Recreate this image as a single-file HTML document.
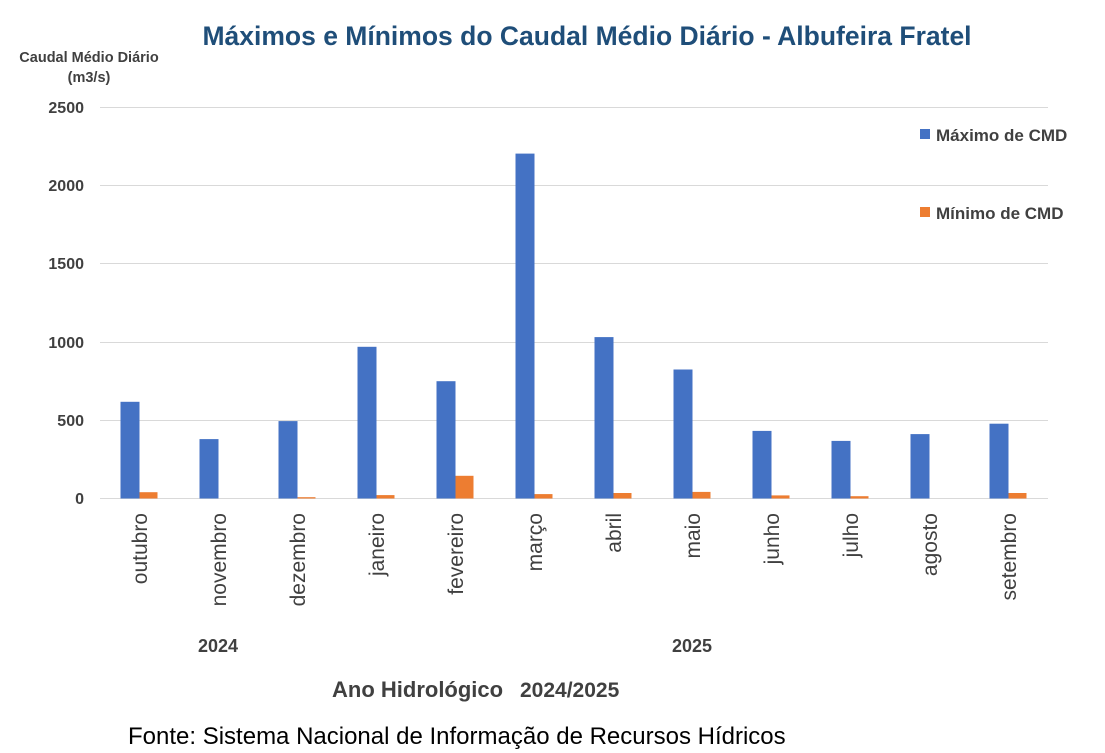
<!DOCTYPE html><html><head><style>body{margin:0;background:#fff}svg{display:block}text{font-family:"Liberation Sans",sans-serif}</style></head><body>
<svg width="1105" height="753" xmlns="http://www.w3.org/2000/svg">
<text x="587" y="45" text-anchor="middle" font-size="26.5" font-weight="bold" fill="#1f4e79">Máximos e Mínimos do Caudal Médio Diário - Albufeira Fratel</text>
<text x="89" y="62" text-anchor="middle" font-size="14.5" font-weight="bold" fill="#404040">Caudal Médio Diário</text>
<text x="89" y="82" text-anchor="middle" font-size="14.5" font-weight="bold" fill="#404040">(m3/s)</text>
<g stroke="#d9d9d9" stroke-width="1">
<line x1="100" x2="1048" y1="107.5" y2="107.5"/><line x1="100" x2="1048" y1="185.5" y2="185.5"/><line x1="100" x2="1048" y1="263.5" y2="263.5"/><line x1="100" x2="1048" y1="342.5" y2="342.5"/><line x1="100" x2="1048" y1="420.5" y2="420.5"/><line x1="100" x2="1048" y1="498.5" y2="498.5"/></g>
<g font-size="16" font-weight="bold" fill="#404040" text-anchor="end">
<text x="84" y="113">2500</text><text x="84" y="191">2000</text><text x="84" y="269">1500</text><text x="84" y="348">1000</text><text x="84" y="426">500</text><text x="84" y="504">0</text></g>
<g fill="#4472c4">
<rect x="120.5" y="401.8" width="19" height="96.7"/>
<rect x="199.5" y="439.1" width="19" height="59.4"/>
<rect x="278.5" y="421.1" width="19" height="77.4"/>
<rect x="357.5" y="346.8" width="19" height="151.7"/>
<rect x="436.5" y="381.2" width="19" height="117.3"/>
<rect x="515.5" y="153.6" width="19" height="344.9"/>
<rect x="594.5" y="337.1" width="19" height="161.4"/>
<rect x="673.5" y="369.5" width="19" height="129"/>
<rect x="752.5" y="430.9" width="19" height="67.6"/>
<rect x="831.5" y="440.9" width="19" height="57.6"/>
<rect x="910.5" y="434.1" width="19" height="64.4"/>
<rect x="989.5" y="423.7" width="19" height="74.8"/>
</g>
<g fill="#ed7d31">
<rect x="139.5" y="492.2" width="18" height="6.3"/>
<rect x="297.5" y="497.2" width="18" height="1.3"/>
<rect x="376.5" y="495.1" width="18" height="3.4"/>
<rect x="455.5" y="475.8" width="18" height="22.7"/>
<rect x="534.5" y="494.1" width="18" height="4.4"/>
<rect x="613.5" y="493" width="18" height="5.5"/>
<rect x="692.5" y="491.9" width="18" height="6.6"/>
<rect x="771.5" y="495.4" width="18" height="3.1"/>
<rect x="850.5" y="496.2" width="18" height="2.3"/>
<rect x="1008.5" y="493" width="18" height="5.5"/>
</g>
<g font-size="21" fill="#404040" text-anchor="end">
<text transform="translate(147,513) rotate(-90)">outubro</text>
<text transform="translate(226,513) rotate(-90)">novembro</text>
<text transform="translate(305,513) rotate(-90)">dezembro</text>
<text transform="translate(384,513) rotate(-90)">janeiro</text>
<text transform="translate(463,513) rotate(-90)">fevereiro</text>
<text transform="translate(542,513) rotate(-90)">março</text>
<text transform="translate(621,513) rotate(-90)">abril</text>
<text transform="translate(700,513) rotate(-90)">maio</text>
<text transform="translate(779,513) rotate(-90)">junho</text>
<text transform="translate(858,513) rotate(-90)">julho</text>
<text transform="translate(937,513) rotate(-90)">agosto</text>
<text transform="translate(1016,513) rotate(-90)">setembro</text>
</g>
<g font-size="17" font-weight="bold" fill="#404040">
<rect x="920" y="129" width="10" height="10" fill="#4472c4"/><text x="936" y="141">Máximo de CMD</text>
<rect x="920" y="207" width="10" height="10" fill="#ed7d31"/><text x="936" y="219">Mínimo de CMD</text></g>
<text x="218" y="652" text-anchor="middle" font-size="18" font-weight="bold" fill="#404040">2024</text>
<text x="692" y="652" text-anchor="middle" font-size="18" font-weight="bold" fill="#404040">2025</text>
<text x="332" y="697" font-size="22" font-weight="bold" fill="#404040">Ano Hidrológico</text>
<text x="520" y="697" font-size="21" font-weight="bold" fill="#404040">2024/2025</text>
<text x="128" y="744" font-size="24" fill="#000">Fonte: Sistema Nacional de Informação de Recursos Hídricos</text>
</svg></body></html>
